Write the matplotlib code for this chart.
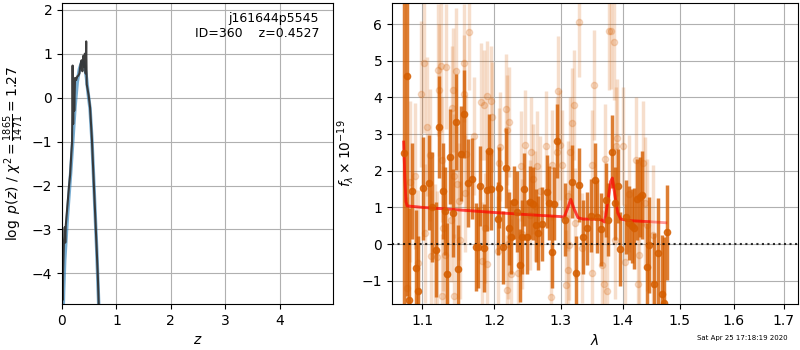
import numpy as np
import matplotlib
matplotlib.use('Agg')
from matplotlib import pyplot as plt
from matplotlib.ticker import ScalarFormatter, NullFormatter

# --- p(z) panel ---
z_raw = [0.000, 0.008, 0.015, 0.022, 0.035, 0.050, 0.060, 0.070, 0.090, 0.110,
         0.130, 0.150, 0.170, 0.185, 0.195, 0.205, 0.215, 0.225, 0.240, 0.260,
         0.280, 0.300, 0.320, 0.340, 0.360, 0.375, 0.390, 0.405, 0.420, 0.435,
         0.445, 0.455, 0.470, 0.490, 0.516, 0.550, 0.577, 0.610, 0.639, 0.660, 0.680]
logp_raw = [-4.9, -3.7, -4.6, -3.9, -3.3, -2.95, -3.3, -2.9, -2.6, -2.3,
            -2.0, -1.75, -1.3, -1.0, 0.73, -0.6, 0.35, -0.3, 0.45, 0.40,
            0.48, 0.50, 0.55, 0.75, 0.85, 0.60, 0.95, 0.70, 1.00, 0.55,
            1.28, 0.30, 0.20, 0.05, -0.22, -0.95, -1.73, -2.65, -3.48, -4.1, -4.9]

z_smooth = [0.020, 0.030, 0.050, 0.075, 0.100, 0.130, 0.160, 0.200, 0.240, 0.280,
            0.320, 0.360, 0.390, 0.420, 0.450, 0.480, 0.516, 0.550, 0.577, 0.610,
            0.640, 0.675, 0.690]
logp_smooth = [-4.9, -4.4, -3.7, -3.2, -2.7, -2.2, -1.7, -0.95, -0.20, 0.35,
               0.65, 0.80, 0.82, 0.70, 0.45, 0.10, -0.25, -0.95, -1.70, -2.65,
               -3.50, -4.70, -5.2]

# --- spectrum panel: binned (dark) ---
wave_bin = [1.0768, 1.0799, 1.0829, 1.0873, 1.0917, 1.0943, 1.1017, 1.1093, 1.1137, 1.1187,
            1.1231, 1.1277, 1.1308, 1.1340, 1.1381, 1.1422, 1.1463, 1.1491, 1.1532, 1.1574,
            1.1621, 1.1686, 1.1738, 1.1770, 1.1799, 1.1847, 1.1890, 1.1919, 1.1956, 1.2048,
            1.2072, 1.2121, 1.2165, 1.2209, 1.2238, 1.2287, 1.2327, 1.2371, 1.2406, 1.2440,
            1.2485, 1.2530, 1.2566, 1.2612, 1.2651, 1.2703, 1.2780, 1.2820, 1.2857, 1.2893,
            1.2944, 1.3065, 1.3180, 1.3243, 1.3286, 1.3355, 1.3410, 1.3474, 1.3544, 1.3577,
            1.3642, 1.3720, 1.3763, 1.3829, 1.3874, 1.3919, 1.3963, 1.4058, 1.4109, 1.4154,
            1.4199, 1.4240, 1.4297, 1.4336, 1.4412, 1.4457, 1.4544, 1.4615, 1.4674, 1.4720,
            1.4763]
flux_bin = [2.48, 4.59, -1.53, 1.45, -0.66, -1.28, 1.52, 1.67, 1.00, -0.15,
            3.19, 1.45, 0.91, -0.83, 2.38, 0.84, 3.33, -0.67, 2.46, 3.55,
            1.66, 1.78, -0.09, -0.09, 1.58, -0.10, 1.46, 2.54, 1.49, 0.69,
            1.54, -0.09, 2.07, 0.43, 0.19, 1.14, 0.88, -0.58, 0.19, 1.49,
            0.19, 1.14, 1.10, 0.51, 0.30, 0.55, 1.43, 1.12, -0.21, 1.10,
            2.81, 0.66, 1.70, -0.78, 1.61, 0.19, 0.43, 0.77, 1.75, 0.75,
            0.40, 1.20, 0.66, 2.52, 1.11, 1.58, -0.14, 0.74, 0.57, 0.49,
            0.43, 1.22, 1.28, 1.34, -0.62, -0.03, -1.09, -0.24, -1.35, -1.60,
            0.32]
err_bin = [6.0, 6.0, 2.5, 1.3, 1.6, 1.5, 1.4, 1.3, 1.5, 1.3,
           1.4, 1.3, 1.2, 1.4, 1.3, 1.2, 1.3, 1.2, 1.3, 1.2,
           1.2, 1.1, 1.2, 1.1, 1.1, 1.2, 1.1, 1.0, 1.1, 1.0,
           1.1, 1.0, 1.1, 1.0, 1.0, 1.0, 1.1, 1.0, 1.0, 1.0,
           1.0, 1.0, 1.0, 1.0, 1.0, 1.0, 1.0, 1.0, 1.0, 1.0,
           1.0, 1.0, 1.0, 1.0, 1.0, 1.0, 1.0, 1.0, 1.0, 1.0,
           1.0, 1.0, 1.0, 1.0, 1.0, 1.0, 1.0, 1.0, 1.0, 1.0,
           1.1, 1.1, 1.1, 1.2, 1.2, 1.3, 1.4, 1.5, 1.6, 1.8,
           1.3]

# --- spectrum panel: unbinned (light) ---
wave_raw = [1.0799, 1.0842, 1.0908, 1.0951, 1.0983, 1.1030, 1.1040, 1.1070, 1.1106, 1.1120,
            1.1173, 1.1200, 1.1210, 1.1231, 1.1254, 1.1263, 1.1272, 1.1285, 1.1308, 1.1318,
            1.1331, 1.1395, 1.1405, 1.1422, 1.1426, 1.1430, 1.1455, 1.1468, 1.1501, 1.1515,
            1.1570, 1.1574, 1.1584, 1.1602, 1.1644, 1.1714, 1.1808, 1.1825, 1.1855, 1.1865,
            1.1890, 1.1898, 1.1947, 1.1962, 1.2050, 1.2062, 1.2082, 1.2165, 1.2179, 1.2185,
            1.2203, 1.2213, 1.2243, 1.2342, 1.2391, 1.2400, 1.2450, 1.2525, 1.2535, 1.2575,
            1.2601, 1.2627, 1.2677, 1.2773, 1.2850, 1.2862, 1.2935, 1.2948, 1.2986, 1.3022,
            1.3075, 1.3107, 1.3115, 1.3127, 1.3143, 1.3180, 1.3211, 1.3222, 1.3286, 1.3329,
            1.3490, 1.3500, 1.3533, 1.3664, 1.3691, 1.3700, 1.3736, 1.3774, 1.3807, 1.3862,
            1.3874, 1.3895, 1.3910, 1.4013, 1.4042, 1.4109, 1.4228, 1.4257, 1.4284, 1.4353,
            1.4383, 1.4412, 1.4527]
flux_raw = [-1.21, 1.70, 1.86, -0.53, 4.09, 4.94, 0.29, 3.20, 2.42, -0.33,
            -0.16, -0.36, 4.74, 4.19, 4.86, 2.30, -1.42, 0.43, -0.30, 4.84,
            -0.82, 0.66, 3.70, 4.20, -1.42, 1.86, 4.73, 1.63, 1.16, 0.11,
            4.94, 4.10, 1.38, 2.46, 5.79, 2.95, 3.88, -0.45, 3.80, 0.43,
            -0.55, 4.04, 3.90, 3.46, -0.20, 2.20, 2.66, 3.67, 3.10, -1.26,
            0.00, 3.32, -0.83, -0.80, 2.14, 0.26, 2.70, 0.79, 2.50, 1.77,
            1.05, 2.14, 1.45, 2.68, -1.45, 2.16, 2.50, 4.18, 2.70, 2.16,
            -1.11, 1.31, -0.71, -0.04, 2.50, 3.30, 3.79, 0.57, 6.06, -0.10,
            -0.80, 2.16, 4.34, -0.57, -1.10, 2.32, -1.29, 5.80, 5.82, 5.52,
            0.10, 2.67, 2.90, 2.67, -0.50, 1.37, 2.30, -1.10, -0.30, 2.20,
            1.13, 0.52, 0.25]
err_raw = [2.5, 2.2, 2.0, 2.0, 2.0, 1.9, 1.9, 1.9, 1.8, 1.8,
           1.8, 1.8, 1.8, 1.8, 1.8, 1.7, 1.7, 1.7, 1.7, 1.7,
           1.7, 1.7, 1.7, 1.7, 1.7, 1.7, 1.7, 1.6, 1.6, 1.6,
           1.6, 1.6, 1.6, 1.6, 1.6, 1.6, 1.6, 1.6, 1.5, 1.5,
           1.5, 1.5, 1.5, 1.5, 1.5, 1.5, 1.5, 1.5, 1.5, 1.5,
           1.5, 1.5, 1.5, 1.5, 1.5, 1.5, 1.5, 1.5, 1.5, 1.5,
           1.5, 1.5, 1.5, 1.5, 1.5, 1.5, 1.5, 1.5, 1.5, 1.5,
           1.5, 1.5, 1.5, 1.5, 1.5, 1.5, 1.5, 1.5, 1.5, 1.5,
           1.5, 1.5, 1.5, 1.5, 1.5, 1.5, 1.5, 1.6, 1.6, 1.6,
           1.6, 1.6, 1.6, 1.6, 1.6, 1.6, 1.7, 1.7, 1.7, 1.7,
           1.8, 1.8, 1.9]

# --- model ---
wave_model = [1.0760, 1.0775, 1.0790, 1.0805, 1.1000, 1.1500, 1.2000, 1.2500, 1.2990, 1.3050,
              1.3100, 1.3155, 1.3210, 1.3270, 1.3350, 1.3500, 1.3650, 1.3700, 1.3760, 1.3800,
              1.3830, 1.3870, 1.3920, 1.3970, 1.4100, 1.4450, 1.4750]
flux_model = [2.78, 1.80, 1.15, 1.04, 1.00, 0.93, 0.86, 0.80, 0.75, 0.73,
              0.95, 1.22, 0.95, 0.72, 0.68, 0.68, 0.66, 0.60, 1.20, 1.70,
              1.80, 1.35, 0.85, 0.68, 0.64, 0.61, 0.58]

grism_color = '#d55e00'

fig = plt.figure(figsize=(8, 3.5), dpi=100)
ax1 = fig.add_axes([0.0775, 0.131, 0.3385, 0.86])
ax2 = fig.add_axes([0.49, 0.131, 0.5075, 0.86])

# left: log p(z)
ax1.plot(z_smooth, logp_smooth, color='#1f77b4', alpha=0.6, lw=2.5)
ax1.plot(z_raw, logp_raw, color='#333333', alpha=0.95, lw=1.5)
ax1.set_xlim(0, 4.98)
ax1.set_ylim(-4.7, 2.15)
ax1.set_xticks([0, 1, 2, 3, 4])
ax1.set_yticks([-4, -3, -2, -1, 0, 1, 2])
ax1.grid()
ax1.set_xlabel(r'$z$')
ax1.set_ylabel(r'$\log\ p(z)$ / $\chi^2=\frac{1865}{1471}=1.27$')
ax1.text(0.95, 0.97, 'j161644p5545\nID=360    z=0.4527', transform=ax1.transAxes,
         ha='right', va='top', fontsize=9)

# right: spectrum
ax2.errorbar(wave_raw, flux_raw, yerr=err_raw, color=grism_color, alpha=0.2,
             marker='o', markersize=4.5, linestyle='None', elinewidth=2.5)
ax2.errorbar(wave_bin, flux_bin, yerr=err_bin, color=grism_color, alpha=0.8,
             marker='o', markersize=4.5, linestyle='None', elinewidth=2.5)
wm = np.array(wave_model)
fm = np.array(flux_model)
ax2.plot(wm, fm, color='r', alpha=0.4, lw=2)
ax2.plot(wm[wm <= 1.445], fm[wm <= 1.445], color='r', alpha=0.5, lw=2)
ax2.axhline(0, color='k', linestyle=':', lw=1.5, alpha=0.8)

ax2.set_xscale('log')
ax2.set_xlim(1.061, 1.729)
ax2.set_ylim(-1.64, 6.57)
ax2.set_xticks([1.1, 1.2, 1.3, 1.4, 1.5, 1.6, 1.7])
ax2.xaxis.set_major_formatter(ScalarFormatter())
ax2.xaxis.set_minor_formatter(NullFormatter())
ax2.minorticks_off()
ax2.set_yticks([-1, 0, 1, 2, 3, 4, 5, 6])
ax2.grid()
ax2.set_xlabel(r'$\lambda$')
ax2.set_ylabel(r'$f_\lambda\times10^{-19}$')

fig.text(0.985, 0.025, 'Sat Apr 25 17:18:19 2020', ha='right', va='bottom', fontsize=5)

fig.savefig('out.png', dpi=100)
